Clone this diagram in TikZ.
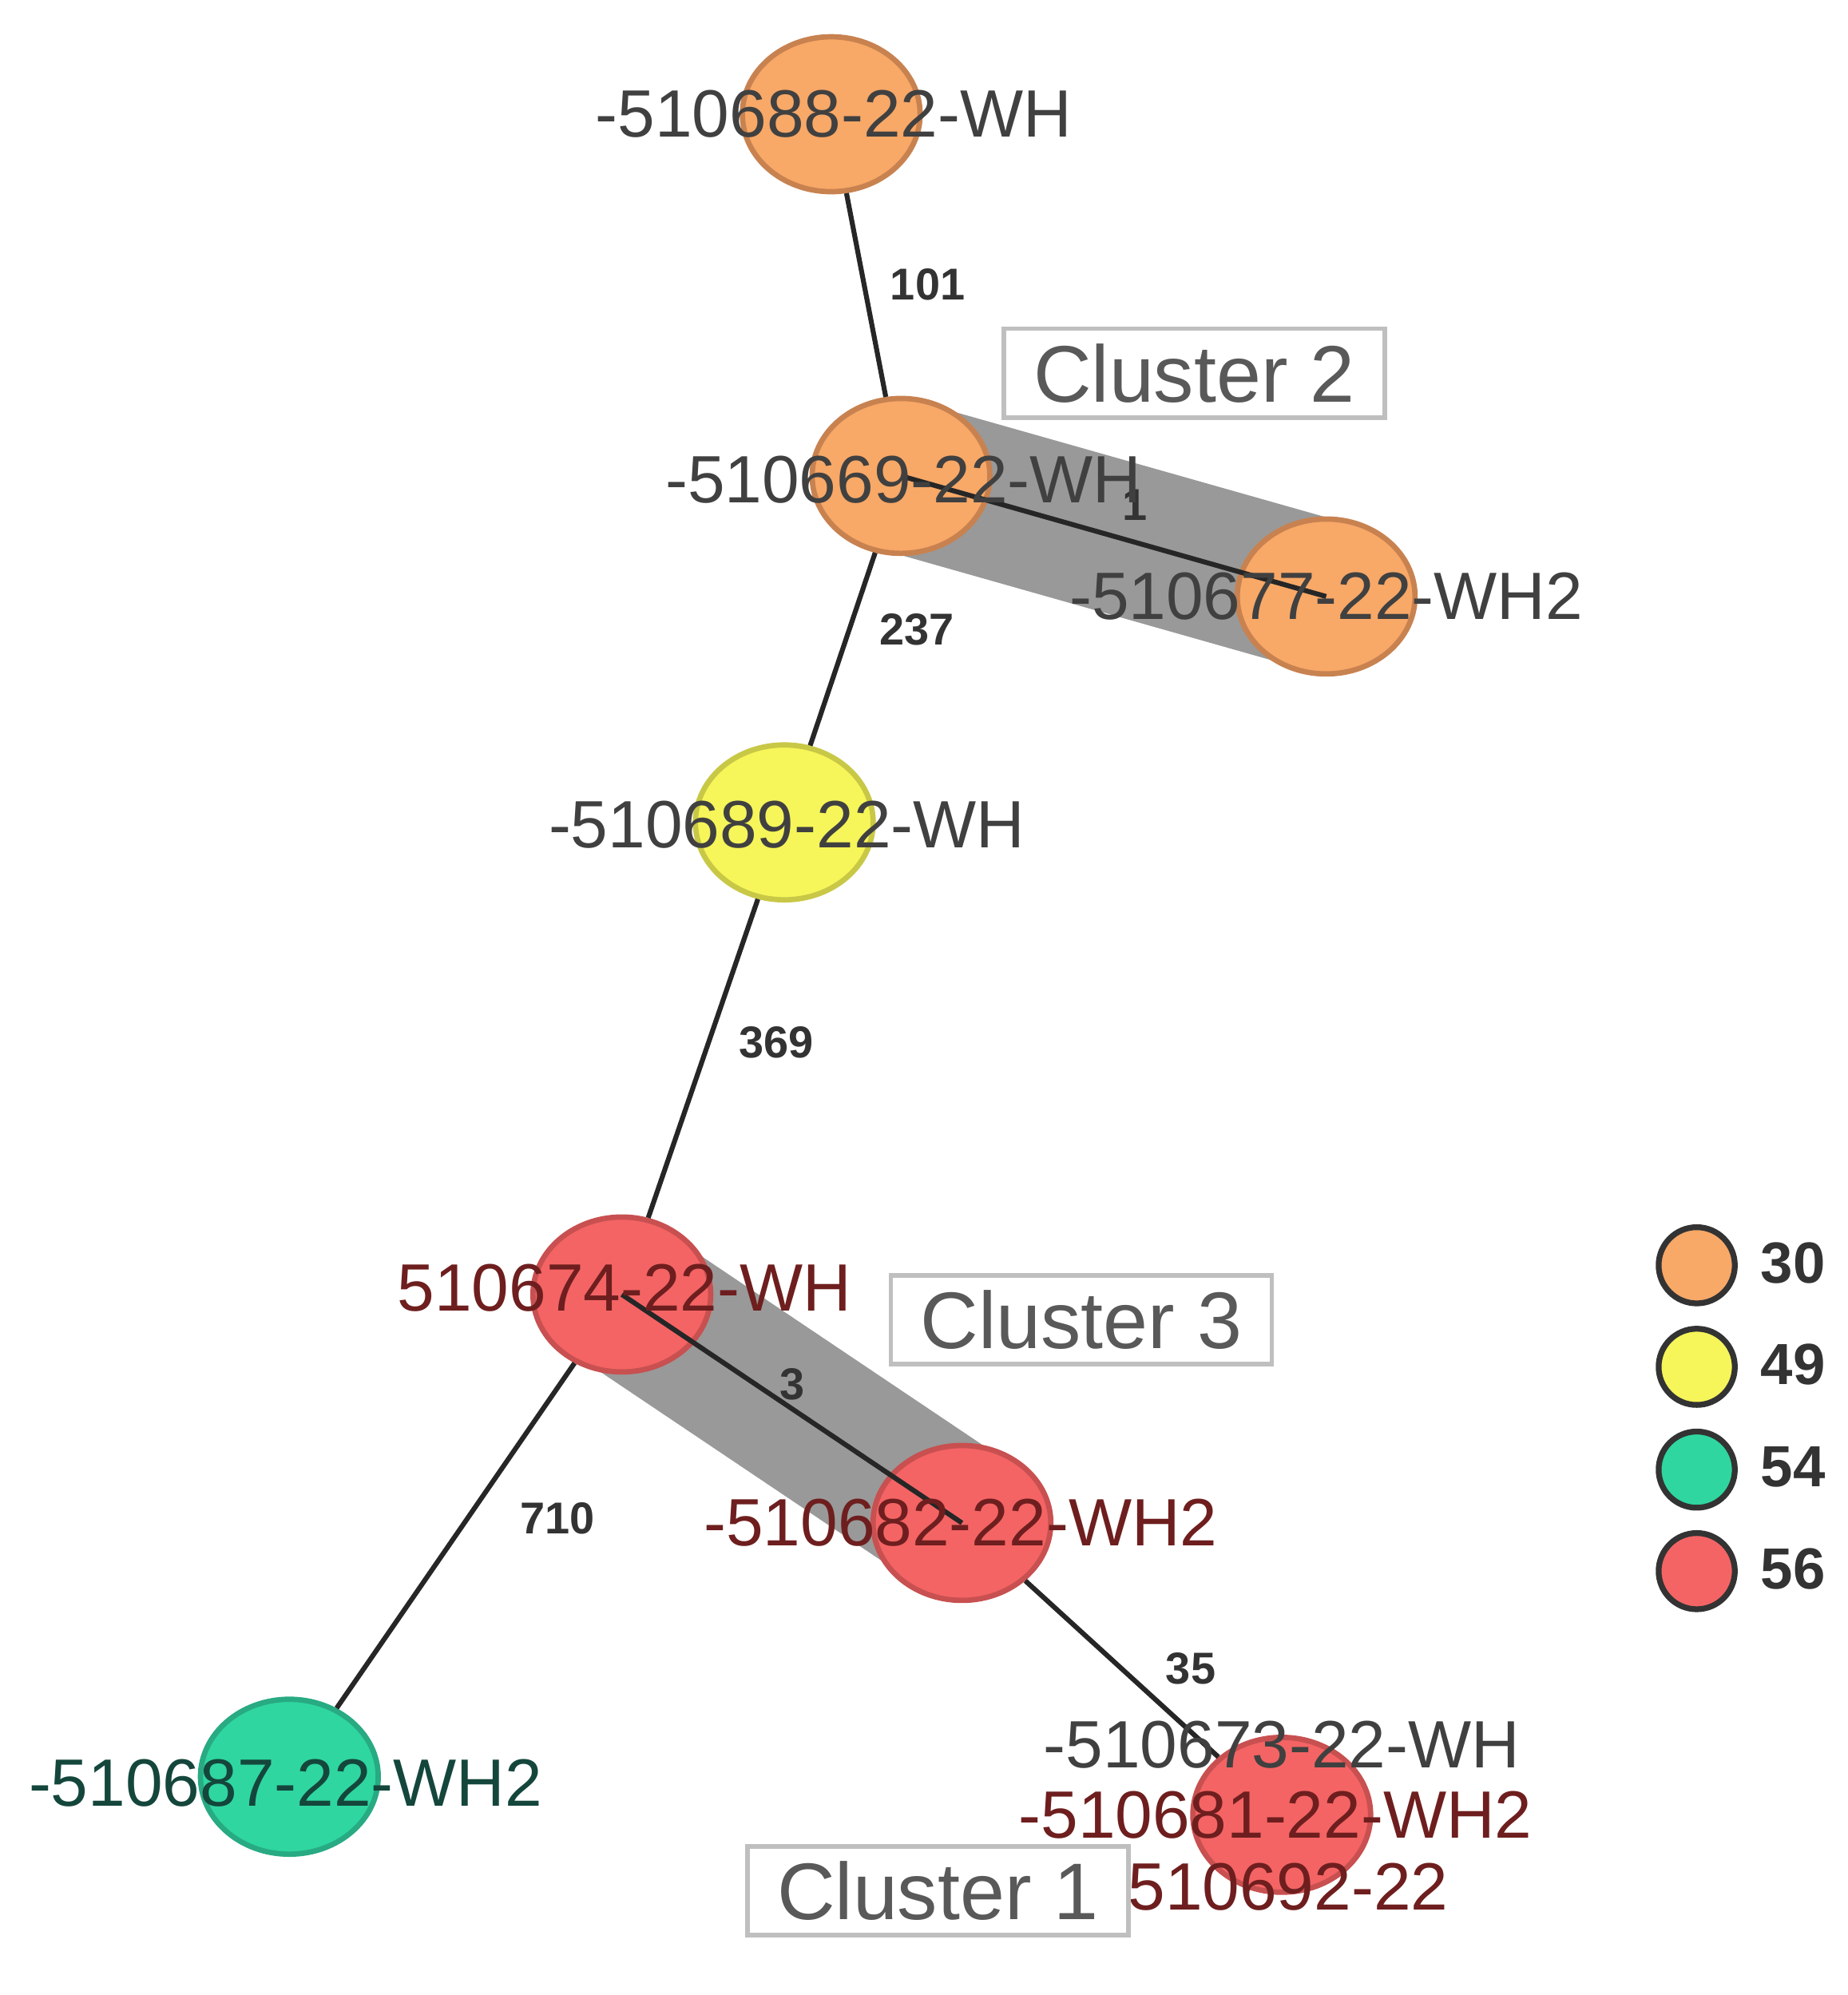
\documentclass[tikz,border=0pt]{standalone}
\usepackage{fontspec}
\setmainfont{Liberation Sans}
\usetikzlibrary{shapes.geometric}
\begin{document}
\begin{tikzpicture}[x=0.01cm,y=-0.01cm,
 nd/.style={ellipse,minimum width=1.4cm,minimum height=1.22cm,line width=1.2pt},
 n30/.style={nd,fill={rgb,255:red,248;green,168;blue,103},draw={rgb,255:red,200;green,130;blue,80}},
 n49/.style={nd,fill={rgb,255:red,246;green,245;blue,90},draw={rgb,255:red,200;green,200;blue,70}},
 n54/.style={nd,fill={rgb,255:red,47;green,214;blue,160},draw={rgb,255:red,40;green,170;blue,130}},
 n56/.style={nd,fill={rgb,255:red,244;green,100;blue,100},draw={rgb,255:red,200;green,80;blue,80}},
 lab/.style={font=\fontsize{15}{18}\selectfont,text=black!75},
 rlab/.style={font=\fontsize{15}{18}\selectfont,text={rgb,255:red,110;green,30;blue,30}},
 el/.style={font=\bfseries\fontsize{10}{12}\selectfont,text=black!80},
 ed/.style={line width=1.1pt,black!85},
 band/.style={line width=1.2cm,black!40,line cap=round},
 cl/.style={draw=black!25,line width=1pt,fill=white,font=\fontsize{18}{22}\selectfont,text=black!65,minimum width=3cm,minimum height=0.65cm},
 lg/.style={circle,minimum size=0.6cm,line width=1.3pt,draw=black!80},
 lt/.style={font=\bfseries\fontsize{13}{15}\selectfont,text=black!80,anchor=west}]
\useasboundingbox (0,0) rectangle (1456,1572);
\coordinate (b1) at (710,375); \coordinate (b2) at (1045,470);
\coordinate (b3) at (490,1020); \coordinate (b4) at (758,1200);
\draw[band] (b1) -- (b2);
\draw[band] (b3) -- (b4);
\node[n30] (n1) at (655,90) {};
\node[n30] (n2) at (710,375) {};
\node[n30] (n3) at (1045,470) {};
\node[n49] (n4) at (618,648) {};
\node[n56] (n5) at (490,1020) {};
\node[n56] (n6) at (758,1200) {};
\node[n56] (n7) at (1010,1430) {};
\node[n54] (n8) at (228,1400) {};
\draw[ed] (n1) -- node[el,pos=0.45,right=2pt]{101} (n2);
\draw[ed] (n2.center) -- node[el,pos=0.55,above=1pt]{1} (n3.center);
\draw[ed] (n2) -- node[el,pos=0.4,right=3pt]{237} (n4);
\draw[ed] (n4) -- node[el,pos=0.45,right=3pt]{369} (n5);
\draw[ed] (n5.center) -- node[el,pos=0.5,above=-2pt]{3} (n6.center);
\draw[ed] (n5) -- node[el,pos=0.45,right=8pt]{710} (n8);
\draw[ed] (n6) -- node[el,pos=0.5,right=6pt]{35} (n7);
\node[lab] (t1) at (657,90) {-510688-22-WH};
\node[lab] (t2) at (712,378) {-510669-22-WH};
\node[lab] (t3) at (1045,470) {-510677-22-WH2};
\node[lab] (t4) at (620,650) {-510689-22-WH};
\node[rlab] (t5) at (492,1015) {510674-22-WH};
\node[rlab] (t6) at (757,1200) {-510682-22-WH2};
\node[lab] (t7a) at (1010,1375) {-510673-22-WH};
\node[rlab] (t7b) at (1005,1430) {-510681-22-WH2};
\node[rlab] (t7c) at (1015,1487) {510692-22};
\node[lab,text={rgb,255:red,20;green,70;blue,60}] (t8) at (225,1405) {-510687-22-WH2};
\node[cl] (c2) at (941,294) {Cluster 2};
\node[cl] (c3) at (852,1040) {Cluster 3};
\node[cl] (c1) at (739,1490) {Cluster 1};
\node[lg,fill={rgb,255:red,248;green,168;blue,103}] (l1) at (1337,997) {};
\node[lg,fill={rgb,255:red,246;green,245;blue,90}] (l2) at (1337,1077) {};
\node[lg,fill={rgb,255:red,47;green,214;blue,160}] (l3) at (1337,1158) {};
\node[lg,fill={rgb,255:red,244;green,100;blue,100}] (l4) at (1337,1238) {};
\node[lt] (k1) at (1375,995) {30};
\node[lt] (k2) at (1375,1075) {49};
\node[lt] (k3) at (1375,1156) {54};
\node[lt] (k4) at (1375,1236) {56};
\end{tikzpicture}
\end{document}
